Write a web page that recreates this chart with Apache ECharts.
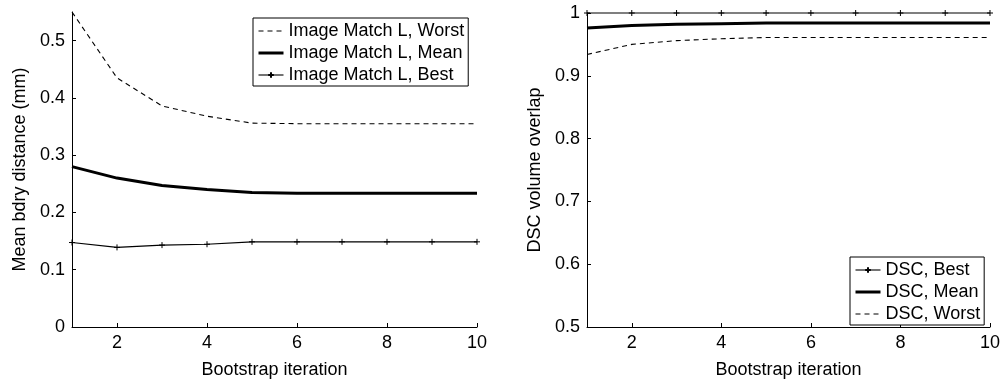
<!DOCTYPE html>
<html>
<head>
<meta charset="utf-8">
<script src="https://cdn.jsdelivr.net/npm/echarts@6/dist/echarts.min.js"></script>
<style>
html,body{margin:0;padding:0;background:#fff;}
#c{width:1003px;height:384px;}
</style>
</head>
<body>
<div id="c"></div>
<script>
const iterations = [1, 2, 3, 4, 5, 6, 7, 8, 9, 10];
const xTicks = [2, 4, 6, 8, 10];
const leftYTicks = [0, 0.1, 0.2, 0.3, 0.4, 0.5];
const rightYTicks = [0.5, 0.6, 0.7, 0.8, 0.9, 1];

const leftWorst = [0.55, 0.435, 0.386, 0.368, 0.356, 0.355, 0.355, 0.355, 0.355, 0.355];
const leftMean  = [0.280, 0.260, 0.247, 0.240, 0.235, 0.2335, 0.2335, 0.2335, 0.2335, 0.2335];
const leftBest  = [0.1475, 0.139, 0.143, 0.1445, 0.1487, 0.1487, 0.1487, 0.1487, 0.1487, 0.1487];

const rightBest  = [1, 1, 1, 1, 1, 1, 1, 1, 1, 1];
const rightMean  = [0.976, 0.980, 0.982, 0.983, 0.984, 0.984, 0.984, 0.984, 0.984, 0.984];
const rightWorst = [0.934, 0.950, 0.956, 0.959, 0.961, 0.961, 0.961, 0.961, 0.961, 0.961];

const FONT = '"Liberation Sans", Arial, Helvetica, sans-serif';
const FS = 18;
const pair = arr => iterations.map((x, i) => [x, arr[i]]);
const PLUS = 'path://M0,5L10,5M5,0L5,10';

function xAxis(gi) {
  return {
    type: 'value', gridIndex: gi, min: 1, max: 10,
    name: 'Bootstrap iteration', nameLocation: 'middle', nameGap: 34,
    nameTextStyle: {color: '#000', fontSize: FS, fontFamily: FONT},
    axisLine: {show: true, lineStyle: {color: '#000', width: 1}},
    axisTick: {show: true, inside: true, length: 4, customValues: xTicks, lineStyle: {color: '#000'}},
    axisLabel: {show: true, margin: 7, customValues: xTicks, color: '#000', fontSize: FS, fontFamily: FONT},
    splitLine: {show: false}
  };
}
function yAxis(gi, min, max, ticks, name) {
  return {
    type: 'value', gridIndex: gi, min: min, max: max,
    name: name, nameLocation: 'middle', nameGap: 43,
    nameTextStyle: {color: '#000', fontSize: FS, fontFamily: FONT},
    axisLine: {show: true, lineStyle: {color: '#000', width: 1}},
    axisTick: {show: true, inside: true, length: 4, customValues: ticks, lineStyle: {color: '#000'}},
    axisLabel: {show: true, margin: 7, customValues: ticks, color: '#000', fontSize: FS, fontFamily: FONT,
      formatter: v => String(Math.round(v * 10) / 10)},
    splitLine: {show: false}
  };
}
function lineSeries(name, gi, data, kind) {
  const s = {
    name: name, type: 'line', xAxisIndex: gi, yAxisIndex: gi, data: pair(data),
    clip: false, animation: false, silent: true,
    lineStyle: {color: '#000', width: 1.1}
  };
  if (kind === 'worst') {
    s.symbol = 'none';
    s.lineStyle.type = [5, 4];
  } else if (kind === 'mean') {
    s.symbol = 'none';
    s.lineStyle.width = 3;
  } else {
    s.symbol = PLUS;
    s.symbolSize = 6;
    s.itemStyle = {color: 'rgba(0,0,0,0)', borderColor: '#000', borderWidth: 1};
  }
  s.itemStyle = s.itemStyle || {color: '#000'};
  return s;
}
function legendItem(name, kind) {
  const it = {name: name};
  if (kind !== 'best') it.itemStyle = {opacity: 0};
  if (kind === 'mean') it.lineStyle = {width: 3, color: '#000'};
  if (kind === 'worst') it.lineStyle = {width: 1.1, color: '#000', type: [5, 4]};
  if (kind === 'best') it.lineStyle = {width: 1.1, color: '#000'};
  return it;
}

const legendBase = {
  orient: 'vertical', itemWidth: 25, itemHeight: 7, itemGap: 4,
  borderColor: '#000', borderWidth: 1, backgroundColor: '#fff', borderRadius: 0,
  textStyle: {color: '#000', fontSize: FS, fontFamily: FONT},
  selectedMode: false
};

const chart = echarts.init(document.getElementById('c'), null, {renderer: 'canvas'});
chart.setOption({
  backgroundColor: '#fff',
  animation: false,
  grid: [
    {left: 72, right: 526, top: 12, bottom: 52},
    {left: 587, right: 10, top: 13, bottom: 52}
  ],
  xAxis: [xAxis(0), xAxis(1)],
  yAxis: [
    yAxis(0, 0, 0.55, leftYTicks, 'Mean bdry distance (mm)'),
    yAxis(1, 0.5, 1, rightYTicks, 'DSC volume overlap')
  ],
  legend: [
    Object.assign({}, legendBase, {left: 253, top: 18, padding: [4, 4, 2, 4],
      data: [legendItem('Image Match L, Worst', 'worst'), legendItem('Image Match L, Mean', 'mean'), legendItem('Image Match L, Best', 'best')]}),
    Object.assign({}, legendBase, {left: 850, top: 257, padding: [4, 4, 2, 4],
      data: [legendItem('DSC, Best', 'best'), legendItem('DSC, Mean', 'mean'), legendItem('DSC, Worst', 'worst')]})
  ],
  series: [
    lineSeries('Image Match L, Worst', 0, leftWorst, 'worst'),
    lineSeries('Image Match L, Mean', 0, leftMean, 'mean'),
    lineSeries('Image Match L, Best', 0, leftBest, 'best'),
    lineSeries('DSC, Best', 1, rightBest, 'best'),
    lineSeries('DSC, Mean', 1, rightMean, 'mean'),
    lineSeries('DSC, Worst', 1, rightWorst, 'worst')
  ]
});
</script>
</body>
</html>
